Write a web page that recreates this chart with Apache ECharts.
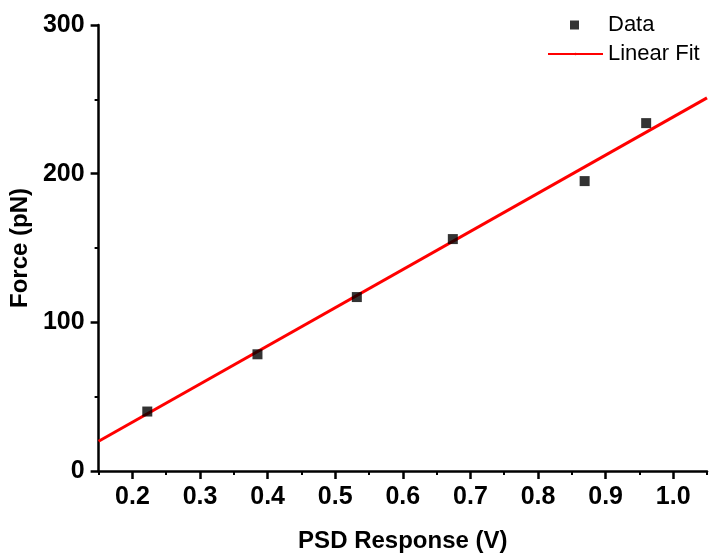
<!DOCTYPE html>
<html>
<head>
<meta charset="utf-8">
<script src="https://cdn.jsdelivr.net/npm/echarts@6/dist/echarts.min.js"></script>
<style>
  html, body { margin: 0; padding: 0; background: #fff; }
  #chart { width: 714px; height: 558px; }
</style>
</head>
<body>
<div id="chart"></div>
<script>
// measured points (PSD response in V, force in pN)
const psdVolts = [0.222, 0.385, 0.532, 0.674, 0.869, 0.960]
const forcePN = [40, 78.5, 117, 156, 195, 234]

// linear fit, end points at the plot edges
const fitVolts = [0.15, 1.05]
const fitForce = [20, 251]

const xTicks = [0.2, 0.3, 0.4, 0.5, 0.6, 0.7, 0.8, 0.9, 1.0]
const xMinorTicks = [0.15, 0.25, 0.35, 0.45, 0.55, 0.65, 0.75, 0.85, 0.95, 1.05]
const yTicks = [0, 100, 200, 300]

const font = 'Liberation Sans, Arial, sans-serif'

const chart = echarts.init(document.getElementById('chart'))

const axisCommon = {
  axisLine: { show: true, onZero: false, lineStyle: { color: '#000', width: 2.5 } },
  axisTick: { show: true, inside: false, length: 8, lineStyle: { color: '#000', width: 2.5 } },
  minorTick: { show: true, splitNumber: 2, length: 4, lineStyle: { color: '#000', width: 2 } },
  splitLine: { show: false },
  axisLabel: { color: '#000', fontFamily: font, fontWeight: 'bold', fontSize: 25 },
  nameTextStyle: { color: '#000', fontFamily: font, fontWeight: 'bold', fontSize: 24 }
}

chart.setOption({
  backgroundColor: '#fff',
  animation: false,
  grid: { left: 98, right: 7, top: 25, bottom: 84, containLabel: false },
  xAxis: [
    Object.assign({}, axisCommon, {
      type: 'value',
      min: 0.15,
      max: 1.05,
      interval: 0.05,
      name: 'PSD Response (V)',
      nameLocation: 'middle',
      nameGap: 58,
      axisLabel: Object.assign({}, axisCommon.axisLabel, {
        margin: 14,
        customValues: xTicks,
        formatter: v => v.toFixed(1)
      }),
      axisTick: Object.assign({}, axisCommon.axisTick, {
        customValues: xTicks
      }),
      minorTick: { show: false },
      z: 3
    }),
    {
      // short ticks half way between the labelled ones
      type: 'value',
      position: 'bottom',
      min: 0.15,
      max: 1.05,
      interval: 0.05,
      axisLine: { show: false },
      axisTick: {
        show: true,
        length: 4,
        customValues: xMinorTicks,
        lineStyle: { color: '#000', width: 2 }
      },
      axisLabel: { show: false },
      splitLine: { show: false }
    }
  ],
  yAxis: Object.assign({}, axisCommon, {
    type: 'value',
    min: 0,
    max: 300,
    interval: 100,
    name: 'Force (pN)',
    nameLocation: 'middle',
    nameGap: 63,
    axisLabel: Object.assign({}, axisCommon.axisLabel, {
      margin: 14,
      formatter: v => (yTicks.includes(v) ? String(v) : '')
    })
  }),
  legend: [
    {
      data: ['Data'],
      left: 570,
      top: 14,
      padding: 0,
      icon: 'rect',
      itemWidth: 9,
      itemHeight: 9,
      textStyle: { color: '#000', fontFamily: font, fontSize: 22, padding: [0, 0, 0, 24] }
    },
    {
      data: ['Linear Fit'],
      left: 547,
      top: 43,
      padding: 0,
      itemWidth: 55,
      itemHeight: 3,
      textStyle: { color: '#000', fontFamily: font, fontSize: 22 }
    }
  ],
  series: [
    {
      name: 'Linear Fit',
      type: 'line',
      data: fitVolts.map((v, i) => [v, fitForce[i]]),
      symbol: 'none',
      lineStyle: { color: '#ff0000', width: 3 },
      itemStyle: { color: '#ff0000' },
      z: 2
    },
    {
      name: 'Data',
      type: 'scatter',
      data: psdVolts.map((v, i) => [v, forcePN[i]]),
      symbol: 'rect',
      symbolSize: 10,
      itemStyle: { color: '#000' },
      z: 3
    }
  ]
})
</script>
</body>
</html>
